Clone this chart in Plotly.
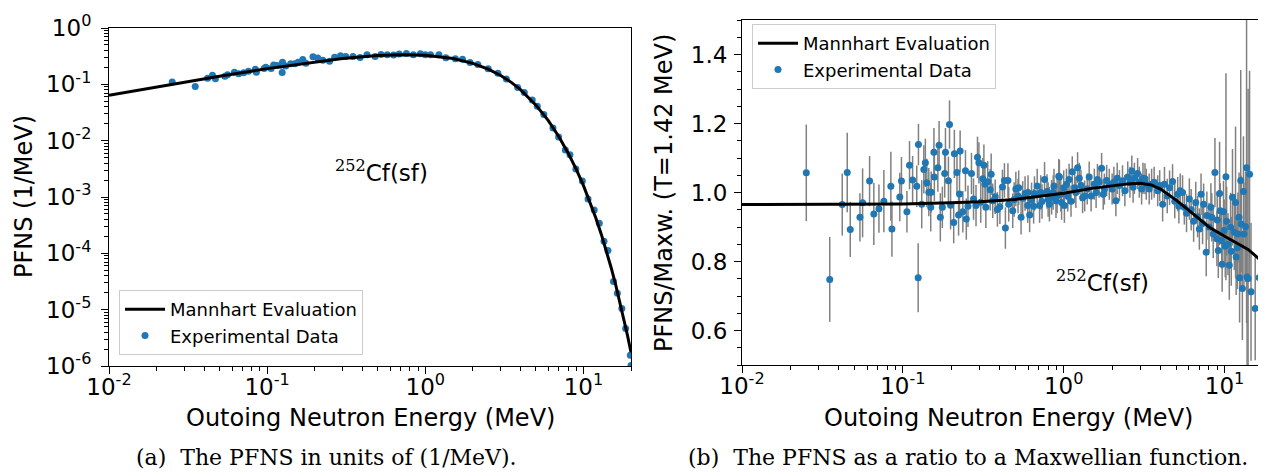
import math
import plotly.graph_objects as go

# ---------------- data ----------------
# Mannhart evaluation (left: PFNS in 1/MeV)
eval_E = [0.01, 0.02, 0.03, 0.05, 0.1, 0.2, 0.3, 0.5, 0.7, 1.0, 1.5, 2.0, 2.5, 3.0, 3.5, 4.0,
          5.0, 6.0, 7.0, 8.0, 9.0, 10.0, 11.0, 12.0, 13.0, 14.0, 15.0, 16.0, 17.0, 18.0, 19.0, 20.0]
eval_pfns = [0.0639, 0.0898, 0.1093, 0.1391, 0.1901, 0.2513, 0.2877, 0.3250, 0.3367, 0.3291,
             0.2875, 0.2353, 0.1858, 0.1435, 0.1084, 0.0806, 0.0431, 0.02264, 0.01176, 0.006068,
             0.003129, 0.001609, 0.000824, 0.0004206, 0.0002143, 0.0001089, 5.495e-5, 2.766e-5,
             1.390e-5, 6.983e-6, 3.501e-6, 1.750e-6]

# Mannhart evaluation (right: ratio to Maxwellian, T = 1.42 MeV)
ratio_E = [0.01, 0.03, 0.1, 0.2, 0.3, 0.5, 0.7, 1.0, 1.5, 2.0, 2.5, 3.0, 3.5, 4.0, 5.0, 6.0,
           7.0, 8.0, 10.0, 12.0, 14.0, 16.0, 18.0, 20.0]
ratio_eval = [0.965, 0.966, 0.967, 0.970, 0.973, 0.980, 0.988, 0.998, 1.012, 1.020, 1.025, 1.027,
              1.022, 1.010, 0.978, 0.948, 0.922, 0.900, 0.873, 0.852, 0.835, 0.812, 0.790, 0.768]

# Experimental data (left panel, PFNS in 1/MeV)
expL_E = [0.0251, 0.0351, 0.042, 0.0451, 0.0471, 0.0541, 0.0562, 0.0621, 0.066, 0.071, 0.0762,
          0.0842, 0.0855, 0.0957, 0.098, 0.106, 0.110, 0.115, 0.122, 0.1245, 0.125, 0.131, 0.141,
          0.150, 0.157, 0.168, 0.176, 0.195, 0.209, 0.225, 0.248, 0.267, 0.291, 0.314, 0.349,
          0.387, 0.428, 0.482, 0.525, 0.575, 0.631, 0.684, 0.760, 0.841, 0.931, 1.00, 1.08, 1.22,
          1.35, 1.55, 1.72, 1.92, 2.15, 2.50, 2.88, 3.26, 3.84, 4.23, 4.75, 5.11, 5.62, 6.42,
          6.97, 7.69, 8.22, 8.96, 9.85, 10.7, 11.7, 12.6, 13.5, 14.3, 15.5, 16.4, 17.5, 18.5,
          19.8, 20.0]
expL_pfns = [0.1097, 0.0912, 0.1281, 0.1452, 0.1250, 0.1386, 0.1474, 0.1643, 0.1534, 0.1611,
             0.1701, 0.1857, 0.1641, 0.1904, 0.2012, 0.1902, 0.2209, 0.2161, 0.2176, 0.1623,
             0.2459, 0.2126, 0.2331, 0.2326, 0.2472, 0.2761, 0.2365, 0.3073, 0.2927, 0.2689,
             0.2574, 0.3012, 0.3230, 0.3116, 0.3106, 0.3005, 0.3341, 0.3123, 0.3386, 0.3363,
             0.3326, 0.3472, 0.3534, 0.3336, 0.3497, 0.3344, 0.3362, 0.3344, 0.2965, 0.2854,
             0.2787, 0.2448, 0.2239, 0.1894, 0.1571, 0.1242, 0.0879, 0.0714, 0.0529, 0.0410,
             0.0291, 0.01684, 0.01162, 0.00680, 0.00560, 0.00314, 0.00192, 0.000919, 0.000585,
             0.000343, 0.000164, 0.000112, 3.17e-5, 1.96e-5, 1.05e-5, 4.64e-6, 1.55e-6, 1.02e-6]

# Experimental data (right panel, ratio to Maxwellian) with 1-sigma uncertainties
expR_E = [0.0251, 0.0351, 0.0420, 0.0451, 0.0471, 0.0541, 0.0562, 0.0621, 0.066, 0.071, 0.0762,
          0.0842, 0.0855, 0.0957, 0.098, 0.106, 0.110, 0.115, 0.122, 0.1245, 0.125, 0.131, 0.135,
          0.138, 0.141, 0.145, 0.149, 0.150, 0.156, 0.157, 0.165, 0.168, 0.171, 0.176, 0.182,
          0.184, 0.192, 0.195, 0.198, 0.207, 0.209, 0.217, 0.222, 0.225, 0.227, 0.236, 0.245,
          0.248, 0.254, 0.267, 0.275, 0.285, 0.291, 0.297, 0.305, 0.314, 0.319, 0.324, 0.328,
          0.337, 0.349, 0.354, 0.362, 0.375, 0.387, 0.401, 0.416, 0.428, 0.434, 0.450, 0.455,
          0.482, 0.492, 0.504, 0.525, 0.543, 0.556, 0.575, 0.597, 0.614, 0.631, 0.658, 0.684,
          0.708, 0.733, 0.760, 0.787, 0.815, 0.841, 0.870, 0.895, 0.931, 0.940, 0.959, 0.970,
          1.00, 1.01, 1.04, 1.08, 1.13, 1.17, 1.22, 1.25, 1.35, 1.44, 1.55, 1.62, 1.72, 1.79,
          1.92, 2.11, 2.15, 2.32, 2.50, 2.65, 2.75, 2.88, 3.11, 3.26, 3.52, 3.84, 4.12, 4.23,
          4.55, 4.75, 5.11, 5.30, 5.48, 5.62, 6.04, 6.42, 6.62, 6.97, 7.14, 7.41, 7.69, 7.76,
          8.22, 8.33, 8.71, 8.96, 9.14, 9.31, 9.40, 9.66, 9.85, 9.94, 10.1, 10.2, 10.3, 10.7,
          10.9, 11.2, 11.5, 11.7, 11.8, 12.1, 12.3, 12.4, 12.6, 12.7, 12.9, 13.1, 13.2, 13.5,
          13.7, 13.8, 14.0, 14.3, 14.6, 15.5, 16.4, 17.5, 18.5,
          # points of the dense band near the evaluation
          0.52, 0.60, 0.65, 0.72, 0.80, 0.86, 0.91, 1.06, 1.11, 1.19, 1.28, 1.31, 1.40, 1.48,
          1.59, 1.66, 1.76, 1.85, 2.00, 2.05, 2.22, 2.40, 2.58, 2.70, 2.95, 3.05, 3.20, 3.40,
          3.65, 3.95, 4.40, 4.90, 5.20, 5.80, 6.20, 6.80, 7.30, 8.00, 8.50, 9.00, 9.60, 10.5,
          11.0, 12.0]
expR_ratio = [1.057, 0.748, 0.965, 1.058, 0.893, 0.928, 0.970, 1.033, 0.938, 0.953, 0.975,
              1.018, 0.894, 0.987, 1.033, 0.944, 1.079, 1.036, 1.018, 0.753, 1.139, 0.966, 1.067,
              1.086, 1.028, 1.001, 0.957, 1.001, 1.117, 1.045, 1.072, 1.137, 0.928, 0.957, 1.055,
              1.117, 1.034, 1.197, 0.963, 0.913, 1.112, 1.058, 0.935, 0.996, 1.120, 0.944, 1.063,
              0.923, 0.960, 1.055, 0.981, 0.962, 1.102, 1.086, 0.972, 1.040, 1.079, 1.024, 0.957,
              1.031, 1.008, 1.053, 0.976, 0.988, 0.951, 0.959, 1.016, 1.035, 0.897, 1.035, 0.966,
              0.947, 0.980, 1.010, 1.014, 0.928, 0.983, 0.997, 0.962, 0.935, 0.979, 0.997, 1.019,
              0.962, 0.974, 1.038, 1.003, 0.966, 0.986, 1.019, 0.976, 1.047, 1.045, 0.995, 0.971,
              1.014, 0.962, 1.024, 1.038, 1.060, 1.014, 1.072, 1.041, 0.990, 1.045, 1.024, 1.038,
              1.070, 1.010, 1.024, 0.976, 1.041, 1.034, 1.045, 1.062, 1.041, 1.055, 1.041, 1.024,
              1.024, 1.005, 0.966, 1.024, 1.014, 1.032, 0.995, 1.005, 1.000, 0.957, 0.981, 0.917,
              0.971, 0.894, 0.995, 0.966, 0.827, 0.933, 0.957, 0.928, 1.058, 0.866, 0.832, 0.997,
              0.947, 0.792, 0.944, 0.890, 0.844, 1.046, 0.917, 0.789, 0.899, 0.986, 0.885, 0.971,
              0.813, 0.880, 0.928, 0.753, 1.035, 0.909, 0.722, 1.003, 0.880, 0.901, 1.072, 0.755,
              0.751, 1.053, 0.712, 0.664, 0.753, 0.851, 0.736,
              0.990, 1.000, 0.960, 1.000, 0.980, 1.000, 0.990, 0.990, 0.975, 1.000, 1.020, 0.985,
              1.010, 0.990, 1.000, 1.030, 0.995, 1.035, 1.010, 1.030, 1.020, 1.005, 1.030, 1.015,
              1.030, 1.010, 1.040, 1.010, 1.030, 1.020, 0.990, 0.975, 0.960, 0.940, 0.950, 0.930,
              0.910, 0.900, 0.880, 0.920, 0.860, 0.850, 0.830, 0.840]
expR_err = [0.14, 0.123, 0.09, 0.115, 0.08, 0.07, 0.10, 0.073, 0.09, 0.07, 0.09,
            0.10, 0.08, 0.07, 0.07, 0.06, 0.07, 0.07, 0.06, 0.10, 0.06, 0.07, 0.07,
            0.07, 0.07, 0.07, 0.07, 0.06, 0.07, 0.07, 0.07, 0.07, 0.07, 0.06, 0.07,
            0.07, 0.07, 0.07, 0.07, 0.06, 0.07, 0.06, 0.06, 0.06, 0.06, 0.06, 0.06,
            0.06, 0.06, 0.06, 0.06, 0.06, 0.06, 0.06, 0.06, 0.06, 0.06, 0.06, 0.06,
            0.06, 0.06, 0.06, 0.05, 0.05, 0.05, 0.05, 0.05, 0.05, 0.06, 0.05, 0.05,
            0.05, 0.05, 0.05, 0.05, 0.05, 0.05, 0.05, 0.05, 0.05, 0.05, 0.05, 0.05,
            0.05, 0.05, 0.05, 0.05, 0.05, 0.05, 0.05, 0.05, 0.05, 0.05, 0.05, 0.05,
            0.05, 0.05, 0.045, 0.045, 0.045, 0.045, 0.045, 0.045, 0.045, 0.045, 0.045, 0.045,
            0.045, 0.045, 0.045, 0.045, 0.045, 0.045, 0.045, 0.045, 0.045, 0.045, 0.045, 0.045,
            0.045, 0.045, 0.05, 0.05, 0.05, 0.05, 0.05, 0.05, 0.05, 0.05, 0.06, 0.06,
            0.06, 0.06, 0.06, 0.06, 0.07, 0.07, 0.07, 0.07, 0.10, 0.08, 0.08, 0.15,
            0.08, 0.08, 0.09, 0.09, 0.09, 0.30, 0.10, 0.10, 0.10, 0.14, 0.11, 0.22,
            0.11, 0.12, 0.13, 0.13, 0.32, 0.14, 0.15, 0.16, 0.15, 0.16, 0.45, 0.30,
            0.55, 0.30, 0.20, 0.15, 0.25, 0.14, 0.32,
            0.05, 0.05, 0.05, 0.05, 0.05, 0.05, 0.05, 0.045, 0.045, 0.045, 0.045, 0.045,
            0.045, 0.045, 0.045, 0.045, 0.045, 0.045, 0.045, 0.045, 0.045, 0.045, 0.045, 0.045,
            0.045, 0.045, 0.045, 0.045, 0.045, 0.045, 0.05, 0.05, 0.05, 0.055, 0.06, 0.06,
            0.06, 0.07, 0.07, 0.08, 0.08, 0.09, 0.10, 0.12]

# axis ticks
x_tickvals = [0.01, 0.1, 1, 10]
x_ticktext = ["10<sup>-2</sup>", "10<sup>-1</sup>", "10<sup>0</sup>", "10<sup>1</sup>"]
yL_tickvals = [1e-6, 1e-5, 1e-4, 1e-3, 1e-2, 1e-1, 1]
yL_ticktext = ["10<sup>-6</sup>", "10<sup>-5</sup>", "10<sup>-4</sup>", "10<sup>-3</sup>",
               "10<sup>-2</sup>", "10<sup>-1</sup>", "10<sup>0</sup>"]
yR_tickvals = [0.6, 0.8, 1.0, 1.2, 1.4]
yR_ticktext = ["0.6", "0.8", "1.0", "1.2", "1.4"]

# ---------------- figure ----------------
W, H = 1266, 474
BLUE = "#1f77b4"
FONT = "DejaVu Sans"
SERIF = "DejaVu Serif"


def px(x):
    return x / W


def py(y):
    return 1 - y / H


x_minor = [m * 10 ** k for k in range(-2, 2) for m in range(2, 10) if m * 10 ** k <= 20]
yL_minor = [m * 10 ** k for k in range(-6, 0) for m in range(2, 10)]

fig = go.Figure()

# left panel
fig.add_trace(go.Scatter(x=expL_E, y=expL_pfns, mode="markers", name="Experimental Data",
                         marker=dict(color=BLUE, size=7), xaxis="x", yaxis="y",
                         legend="legend", legendrank=2))
fig.add_trace(go.Scatter(x=eval_E, y=eval_pfns, mode="lines", name="Mannhart Evaluation",
                         line=dict(color="black", width=3), xaxis="x", yaxis="y",
                         legend="legend", legendrank=1))
# right panel
fig.add_trace(go.Scatter(x=expR_E, y=expR_ratio, mode="markers", name="Experimental Data",
                         marker=dict(color=BLUE, size=7),
                         error_y=dict(type="data", array=expR_err, color="#808080",
                                      thickness=1.5, width=0),
                         xaxis="x2", yaxis="y2", legend="legend2", legendrank=2))
fig.add_trace(go.Scatter(x=ratio_E, y=ratio_eval, mode="lines", name="Mannhart Evaluation",
                         line=dict(color="black", width=3), xaxis="x2", yaxis="y2",
                         legend="legend2", legendrank=1))

axis_common = dict(showline=True, linecolor="black", linewidth=1, mirror=True,
                   ticks="outside", ticklen=7, tickwidth=1, tickcolor="black",
                   showgrid=False, zeroline=False, automargin=False,
                   tickfont=dict(family=FONT, size=23, color="black"))

xr = [-2, math.log10(20)]
fig.update_layout(
    width=W, height=H, margin=dict(l=0, r=0, t=0, b=0),
    paper_bgcolor="white", plot_bgcolor="white",
    font=dict(family=FONT, color="black"),
    xaxis=dict(domain=[px(101), px(623)], type="log", range=xr, anchor="y",
               tickmode="array", tickvals=x_tickvals, ticktext=x_ticktext,
               ticklabelstandoff=-7,
               minor=dict(tickmode="array", tickvals=x_minor, ticks="outside", ticklen=4,
                          tickcolor="black", showgrid=False), **axis_common),
    yaxis=dict(domain=[py(358), py(20)], type="log", range=[-6, 0], anchor="x",
               tickmode="array", tickvals=yL_tickvals, ticktext=yL_ticktext,
               ticklabelstandoff=5,
               minor=dict(tickmode="array", tickvals=yL_minor, ticks="outside", ticklen=4,
                          tickcolor="black", showgrid=False), **axis_common),
    xaxis2=dict(domain=[px(734), px(1265)], type="log", range=xr, anchor="y2",
                tickmode="array", tickvals=x_tickvals, ticktext=x_ticktext,
                ticklabelstandoff=-7,
                minor=dict(tickmode="array", tickvals=x_minor, ticks="outside", ticklen=4,
                           tickcolor="black", showgrid=False), **axis_common),
    yaxis2=dict(domain=[py(357), py(12)], range=[0.5, 1.5], anchor="x2",
                tickmode="array", tickvals=yR_tickvals, ticktext=yR_ticktext,
                ticklabelstandoff=2,
                minor=dict(dtick=0.05, tick0=0.5, ticks="outside", ticklen=4,
                           tickcolor="black", showgrid=False), **axis_common),
    legend=dict(x=px(111), y=py(282), xanchor="left", yanchor="top",
                bordercolor="#cccccc", borderwidth=1, bgcolor="rgba(255,255,255,0.8)",
                font=dict(family=FONT, size=18, color="black"), itemwidth=40,
                tracegroupgap=0),
    legend2=dict(x=px(744), y=py(16), xanchor="left", yanchor="top",
                 bordercolor="#cccccc", borderwidth=1, bgcolor="rgba(255,255,255,0.8)",
                 font=dict(family=FONT, size=18, color="black"), itemwidth=40,
                 tracegroupgap=0),
    showlegend=True,
)


def note(text, x, y, family=FONT, size=24, angle=0):
    return dict(text=text, x=px(x), y=py(y), xref="paper", yref="paper",
                xanchor="center", yanchor="middle", showarrow=False, textangle=angle,
                font=dict(family=family, size=size, color="black"))


cf_text = '<sup><span style="font-family:DejaVu Serif">252</span></sup>Cf(sf)'
ann = [
    note("Outoing Neutron Energy (MeV)", 362, 410),
    note("Outoing Neutron Energy (MeV)", 1000, 410),
    note("PFNS (1/MeV)", 16, 189, angle=-90),
    note("PFNS/Maxw. (T=1.42 MeV)", 656, 185, angle=-90),
    note(cf_text, 373, 163, size=23),
    note(cf_text, 1094, 273, size=23),
    note("(a)  The PFNS in units of (1/MeV).", 318, 449, family=SERIF, size=22),
    note("(b)  The PFNS as a ratio to a Maxwellian function.", 960, 449, family=SERIF, size=22),
]
fig.update_layout(annotations=ann)

fig.write_html("out.html")
